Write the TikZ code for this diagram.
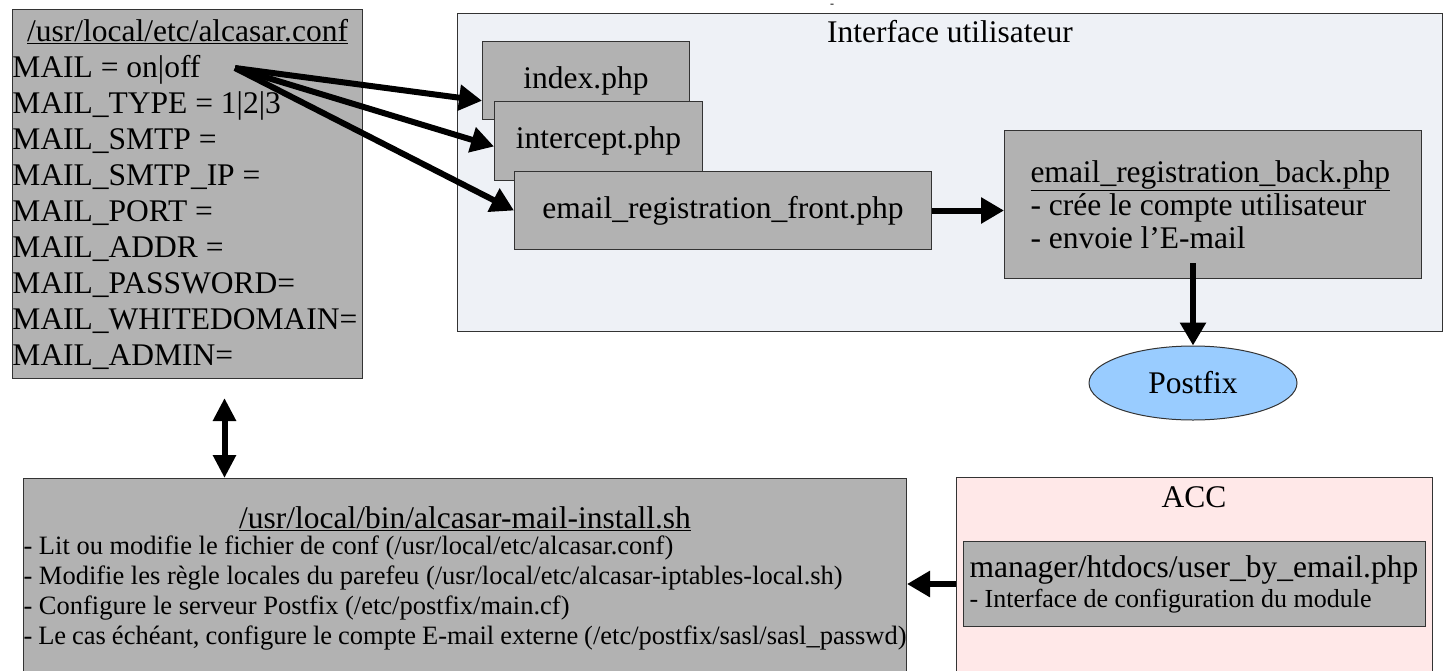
\documentclass[tikz,border=0pt]{standalone}
\usepackage{fontspec}
\setmainfont{Liberation Serif}
\usetikzlibrary{arrows.meta,shapes.geometric}

\definecolor{boxgray}{RGB}{178,178,178}
\definecolor{ihmback}{RGB}{238,241,246}
\definecolor{accback}{RGB}{255,232,232}
\definecolor{postfixblue}{RGB}{153,204,255}
\newcommand{\natspace}{\spaceskip=0pt\xspaceskip=0pt}
\newcommand{\bigtxt}{\fontsize{31.5}{36}\selectfont\natspace}
\newcommand{\midtxt}{\fontsize{26.5}{30}\selectfont\natspace}

\begin{document}
\begin{tikzpicture}[x = 1pt, y = -1pt]
\tikzstyle{FileStyle}=[draw = black!80, fill = boxgray, line width = 1pt,
                         inner sep = 0pt, anchor = north west]
\tikzstyle{GroupStyle}=[draw = black!80, line width = 1pt, inner sep = 0pt,
                         anchor = north west]
\tikzstyle{flow}=[line width = 6pt, -{Triangle[length = 23pt, width = 25pt]}]
\useasboundingbox (0,0) rectangle (1448,670);
\clip (0,0) rectangle (1448,670);
% groups
\node[GroupStyle, fill = ihmback, minimum width = 985pt, minimum height = 318pt] (ihm) at (457,13) {};
\node[font = \bigtxt] (ihmtitle) at (950,32) {Interface utilisateur};
\node[font = \fontsize{12}{12}\selectfont, inner sep = 0pt] (dash) at (832,6) {-};
\node[GroupStyle, fill = accback, minimum width = 476pt, minimum height = 220pt] (acc) at (956,477) {};
\node[font = \bigtxt] (acctitle) at (1194,497) {ACC};
% files
\node[FileStyle, text width = 350pt, minimum height = 369pt, align = left, font = \bigtxt] (conf) at (12,9)
  {\natspace\makebox[\linewidth]{\underline{/usr/local/etc/alcasar.conf}}\\
   MAIL = on|off\\ MAIL\_TYPE = 1|2|3\\ MAIL\_SMTP =\\ MAIL\_SMTP\_IP =\\
   MAIL\_PORT =\\ MAIL\_ADDR =\\ MAIL\_PASSWORD=\\ MAIL\_WHITEDOMAIN=\\ MAIL\_ADMIN=\par};
\node[FileStyle, minimum width = 207pt, minimum height = 78pt, font = \bigtxt] (index) at (482,41) {index.php};
\node[FileStyle, minimum width = 208pt, minimum height = 79pt, font = \bigtxt] (intercept) at (494,101) {intercept.php};
\node[FileStyle, minimum width = 417pt, minimum height = 78pt, font = \bigtxt] (front) at (514,171) {email\_registration\_front.php};
\node[FileStyle, text width = 365pt, inner xsep = 26pt, minimum height = 148pt, align = left,
      font = \fontsize{31.5}{33}\selectfont] (back) at (1004,130)
  {\natspace\underline{email\_registration\_back.php}\\
   - crée le compte utilisateur\\ - envoie l’E-mail\par};
\node[ellipse, draw = black!80, fill = postfixblue, line width = 1pt, minimum width = 208pt,
      minimum height = 74pt, inner sep = 0pt, font = \bigtxt] (postfix) at (1193,383) {Postfix};
\node[FileStyle, text width = 883pt, minimum height = 200pt, align = left, font = \midtxt] (install) at (23,478)
  {\bigtxt\makebox[\linewidth]{\underline{/usr/local/bin/alcasar-mail-install.sh}}\\[-4pt]
   \midtxt - Lit ou modifie le fichier de conf (/usr/local/etc/alcasar.conf)\\
   - Modifie les règle locales du parefeu (/usr/local/etc/alcasar-iptables-local.sh)\\
   - Configure le serveur Postfix (/etc/postfix/main.cf)\\
   - Le cas échéant, configure le compte E-mail externe (/etc/postfix/sasl/sasl\_passwd)\\[30pt]};
\node[FileStyle, text width = 450pt, inner xsep = 6pt, minimum height = 85pt, align = left,
      font = \fontsize{26}{30}\selectfont] (userbyemail) at (963,541)
  {\natspace{\fontsize{31.5}{32}\selectfont manager/htdocs/user\_by\_email.php\\}
   - Interface de configuration du module\par};
% arrows
\coordinate (mailsrc) at (235,68);
\draw[flow] (mailsrc) -- (index.191);
\draw[flow] (mailsrc) -- (intercept.183);
\draw[flow] (mailsrc) -- (front.west);
\draw[flow] (front.east) -- (front.east -| back.west);
\draw[flow] ([yshift = 16pt]back.south -| postfix.north) -- (postfix.north);
\draw[flow, {Triangle[length = 23pt, width = 22pt]}-{Triangle[length = 23pt, width = 22pt]}]
  ([xshift = 37pt, yshift = -19pt]conf.south) -- ([xshift = 37pt]conf.south |- install.north);
\draw[flow] (userbyemail.west -| acc.west) -- (userbyemail.west -| install.east);
\end{tikzpicture}
\end{document}
